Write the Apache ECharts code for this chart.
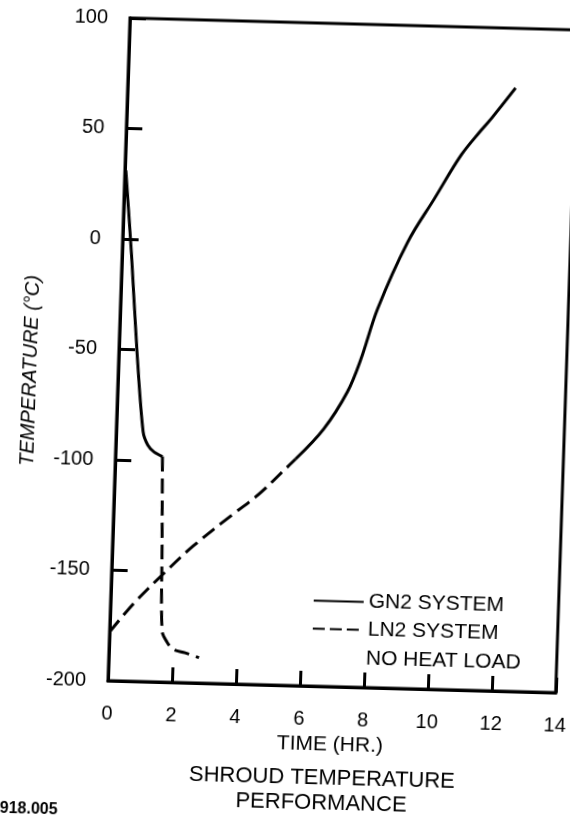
<!DOCTYPE html>
<html>
<head>
<meta charset="utf-8">
<script src="https://cdn.jsdelivr.net/npm/echarts@6/dist/echarts.min.js"></script>
<style>
  html, body { margin:0; padding:0; background:#fff; overflow:hidden; width:570px; height:821px; }
  #chart { position:absolute; left:0; top:0; width:570px; height:821px;
           transform: matrix(1, 0.0268, -0.0332, 1, 0, 0); transform-origin: 108px 681px; }
</style>
</head>
<body>
<div id="chart"></div>
<script>
// ---- data ----
const xTicks = [0, 2, 4, 6, 8, 10, 12, 14];
const yTicks = [-200, -150, -100, -50, 0, 50, 100];

// GN2 system cool-down (solid)
const gn2CoolTime = [0.03, 0.30, 0.56, 0.84, 1.00, 1.20, 1.47];
const gn2CoolTemp = [31, -8, -50, -87, -93, -96, -98];
// LN2 system cool-down (dashed)
const ln2CoolTime = [1.47, 1.55, 1.64, 1.81, 2.00, 2.38, 2.82];
const ln2CoolTemp = [-98, -138, -177, -182, -185, -186.5, -188.5];
// LN2 system warm-up (dashed)
const ln2WarmTime = [0, 0.71, 1.62, 2.53, 3.75, 4.51, 5.33, 5.63];
const ln2WarmTemp = [-178, -165, -151, -138, -123, -114, -102, -97.5];
// GN2 system warm-up (solid)
const gn2WarmTime = [5.63, 6.48, 7.18, 7.57, 8.04, 8.91, 9.70, 10.49, 11.09, 11.40, 12.12];
const gn2WarmTemp = [-97.5, -83.5, -66.5, -51.5, -28.5, 2, 22, 42, 53.5, 59, 73];

const seriesNames = ['GN2 SYSTEM', 'LN2 SYSTEM'];
const noteText = 'NO HEAT LOAD';
const xName = 'TIME (HR.)';
const yName = 'TEMPERATURE (°C)';
const titleText = 'SHROUD TEMPERATURE\nPERFORMANCE';
const figId = '918.005';

const FONT = '"Liberation Sans", Arial, Helvetica, sans-serif';
const pairs = (xs, ys) => xs.map((x, i) => [x, ys[i]]);
const DASH = [15, 7];

const chart = echarts.init(document.getElementById('chart'), null, {renderer: 'canvas'});
const lineSeries = (name, xs, ys, dashed, smooth) => ({
  name: name, type: 'line', data: pairs(xs, ys),
  symbol: 'none', showSymbol: false, smooth: smooth,
  lineStyle: {color: '#000', width: 3, type: dashed ? DASH : 'solid', cap: 'butt', join: 'round'},
  itemStyle: {color: '#000'}, z: 3, silent: true
});

chart.setOption({
  animation: false,
  backgroundColor: '#fff',
  color: ['#000'],
  grid: {left: 108, top: 18, width: 448, height: 663, show: true,
         borderColor: '#000', borderWidth: 3, backgroundColor: 'transparent'},
  xAxis: {
    type: 'value', min: xTicks[0], max: xTicks[xTicks.length - 1], interval: 2,
    name: xName, nameLocation: 'middle', nameGap: 48,
    nameTextStyle: {fontSize: 21, color: '#000', fontFamily: FONT},
    axisLine: {show: true, onZero: false, lineStyle: {color: '#000', width: 3}},
    axisTick: {show: true, inside: true, length: 15, lineStyle: {color: '#000', width: 3}},
    axisLabel: {margin: 23, fontSize: 20, color: '#000', fontFamily: FONT, showMinLabel: true, showMaxLabel: true},
    splitLine: {show: false}
  },
  yAxis: {
    type: 'value', min: yTicks[0], max: yTicks[yTicks.length - 1], interval: 50,
    axisLine: {show: true, onZero: false, lineStyle: {color: '#000', width: 3}},
    axisTick: {show: true, inside: true, length: 16, lineStyle: {color: '#000', width: 3}},
    axisLabel: {margin: 22, fontSize: 20, color: '#000', fontFamily: FONT, showMinLabel: true, showMaxLabel: true},
    splitLine: {show: false}
  },
  legend: {
    orient: 'vertical', left: 310, top: 585, padding: 0,
    itemWidth: 50, itemHeight: 14, itemGap: 7, selectedMode: false,
    itemStyle: {opacity: 0, borderWidth: 0, color: 'transparent'},
    textStyle: {fontSize: 21, color: '#000', fontFamily: FONT},
    data: [{name: seriesNames[0]}, {name: seriesNames[1], lineStyle: {type: [12, 5]}}]
  },
  series: [
    lineSeries(seriesNames[0], gn2CoolTime, gn2CoolTemp, false, 0.3),
    lineSeries(seriesNames[1], ln2CoolTime, ln2CoolTemp, true, 0.3),
    lineSeries(seriesNames[1], ln2WarmTime, ln2WarmTemp, true, 0.35),
    lineSeries(seriesNames[0], gn2WarmTime, gn2WarmTemp, false, 0.35)
  ],
  graphic: [
    {type: 'text', x: 365, y: 652, silent: true,
     style: {text: noteText, fontSize: 21, fill: '#000', fontFamily: FONT, verticalAlign: 'middle'}},
    {type: 'text', x: 20, y: 373, rotation: Math.PI / 2, silent: true,
     style: {text: yName, fontSize: 20, fontStyle: 'italic', fill: '#000', fontFamily: FONT,
             align: 'center', verticalAlign: 'middle'}},
    {type: 'text', x: 325, y: 760, silent: true,
     style: {text: titleText, fontSize: 22, lineHeight: 25, fill: '#000', fontFamily: FONT,
             align: 'center', verticalAlign: 'top'}},
    {type: 'text', x: 4, y: 812, silent: true,
     style: {text: figId, fontSize: 16, fontWeight: 'bold', fill: '#000', fontFamily: FONT,
             verticalAlign: 'middle'}}
  ]
});
</script>
</body>
</html>
